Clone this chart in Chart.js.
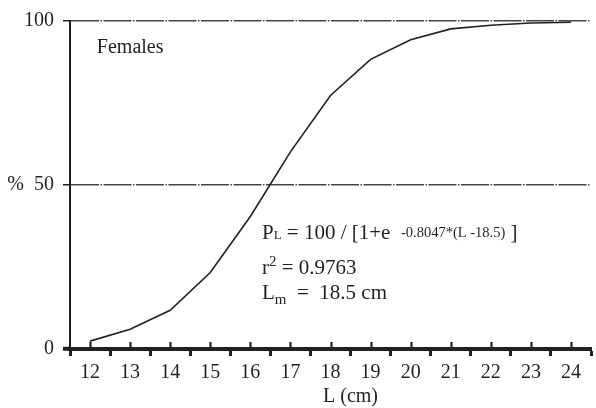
<!DOCTYPE html>
<html>
<head>
<meta charset="utf-8">
<script src="https://cdn.jsdelivr.net/npm/chart.js@4.4.1/dist/chart.umd.min.js"></script>
<style>
  html,body{margin:0;padding:0;background:#fff;}
  #wrap{width:596px;height:408px;}
</style>
</head>
<body>
<div id="wrap"><canvas id="c" width="596" height="408"></canvas></div>
<script>
// lengths (cm) and % mature
const lengths = [12, 13, 14, 15, 16, 17, 18, 19, 20, 21, 22, 23, 24];
const percentMature = [2.4, 6.0, 11.8, 23.3, 40.4, 60.1, 77.3, 88.3, 94.3, 97.6, 98.7, 99.4, 99.6];
const yTicks = [0, 50, 100];

const INK = '#231f20';
const SERIF = '"Liberation Serif","Times New Roman",serif';

// text runs: [text, size, dy]
const annotations = [
  {x: 12.17, y: 90.3, runs: [['Females', 20, 0]]},
  {x: 16.29, y: 33.5, runs: [['P', 21, 0], ['L', 13, 0], [' = 100 / [1+e  ', 21, 0], ['-0.8047*(L -18.5)', 14.5, -2], [' ]', 21, 0]]},
  {x: 16.29, y: 22.8, runs: [['r', 21, 0], ['2', 15, -8], [' = 0.9763', 21, 0]]},
  {x: 16.29, y: 15.3, runs: [['L', 21, 0], ['m', 15, 5], ['  =  18.5 cm', 21, 0]]}
];

const extras = {
  id: 'extras',
  afterDraw(chart) {
    const {ctx, chartArea} = chart;
    const xs = chart.scales.x, ys = chart.scales.y;
    ctx.save();
    // small upward ticks at whole cm
    ctx.strokeStyle = INK; ctx.lineWidth = 2.2;
    for (const v of lengths) {
      const px = Math.round(xs.getPixelForValue(v)) + 0.5;
      ctx.beginPath(); ctx.moveTo(px, chartArea.bottom - 1); ctx.lineTo(px, chartArea.bottom - 7); ctx.stroke();
    }
    // annotations
    ctx.fillStyle = INK; ctx.textBaseline = 'alphabetic'; ctx.textAlign = 'left';
    for (const a of annotations) {
      let px = xs.getPixelForValue(a.x);
      const py = ys.getPixelForValue(a.y);
      for (const [t, size, dy] of a.runs) {
        ctx.font = size + 'px ' + SERIF;
        ctx.fillText(t, px, py + dy);
        px += ctx.measureText(t).width;
      }
    }
    // axis title
    ctx.font = '20px ' + SERIF;
    ctx.textAlign = 'center'; ctx.textBaseline = 'middle';
    ctx.fillText('L (cm)', xs.getPixelForValue(18.5), 397);
    ctx.restore();
  }
};

new Chart(document.getElementById('c'), {
  type: 'line',
  data: {
    labels: lengths,
    datasets: [{
      data: lengths.map((l, i) => ({x: l, y: percentMature[i]})),
      borderColor: INK, borderWidth: 1.6, pointRadius: 0, tension: 0, fill: false
    }]
  },
  options: {
    responsive: false, animation: false, devicePixelRatio: 1,
    layout: {padding: {top: 18, right: 4, left: 0, bottom: 0}},
    plugins: {legend: {display: false}, tooltip: {enabled: false}},
    scales: {
      x: {
        type: 'linear', min: 11.5, max: 24.5,
        afterFit: s => { s.height = 59; },
        border: {display: true, color: INK, width: 4},
        grid: {
          drawOnChartArea: false, drawTicks: true, tickLength: 7,
          tickWidth: 3,
          tickColor: c => Number.isInteger(c.tick.value) ? 'rgba(0,0,0,0)' : INK
        },
        ticks: {
          stepSize: 0.5, autoSkip: false, maxRotation: 0, padding: 5,
          color: INK, font: {family: SERIF, size: 20},
          callback: v => Number.isInteger(v) ? String(v) : ''
        }
      },
      y: {
        min: 0, max: 100,
        afterFit: s => { s.width = 70; },
        afterBuildTicks: s => { s.ticks = yTicks.map(v => ({value: v})); },
        border: {display: true, color: INK, width: 2, dash: [28, 1.5, 1.5, 1.5]},
        grid: {
          color: c => c.tick && c.tick.value === 0 ? 'rgba(0,0,0,0)' : '#444',
          lineWidth: 1.5, tickLength: 7,
          tickColor: INK,
          tickWidth: c => c.tick && c.tick.value === 0 ? 4 : 1.5
        },
        ticks: {
          padding: 9, color: INK, font: {family: SERIF, size: 20},
          callback: v => v === 50 ? '%  50' : String(v)
        }
      }
    }
  },
  plugins: [extras]
});
</script>
</body>
</html>
